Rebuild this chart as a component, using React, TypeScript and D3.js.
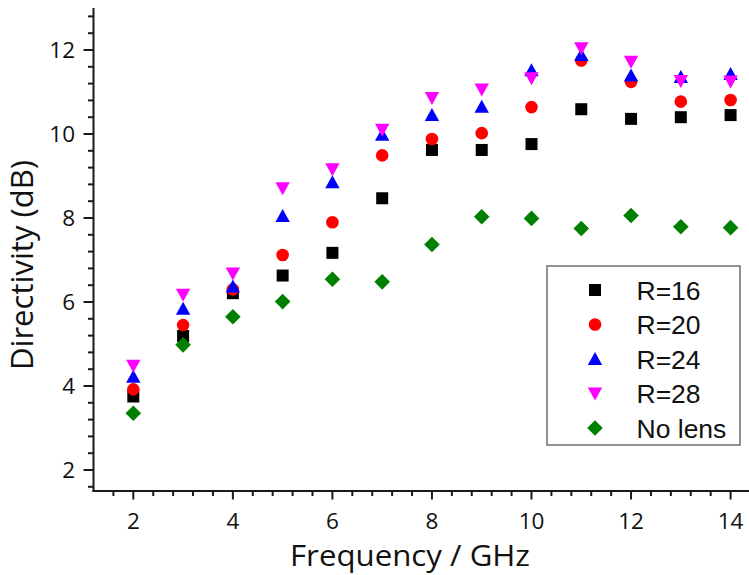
import React from "react";
import * as d3 from "d3";

const freqs = [2, 3, 4, 5, 6, 7, 8, 9, 10, 11, 12, 13, 14];
const r16 = [3.75, 5.19, 6.21, 6.63, 7.17, 8.47, 9.62, 9.62, 9.76, 10.59, 10.36, 10.4, 10.45];
const r20 = [3.92, 5.45, 6.3, 7.12, 7.9, 9.49, 9.88, 10.02, 10.64, 11.75, 11.24, 10.77, 10.81];
const r24 = [4.22, 5.84, 6.37, 8.05, 8.85, 9.98, 10.45, 10.65, 11.52, 11.88, 11.39, 11.36, 11.43];
const r28 = [4.48, 6.17, 6.68, 8.71, 9.16, 10.1, 10.86, 11.06, 11.33, 12.04, 11.72, 11.26, 11.25];
const noLens = [3.35, 4.98, 5.65, 6.01, 6.54, 6.48, 7.37, 8.03, 7.99, 7.75, 8.06, 7.79, 7.77];

const seriesNames = ["R=16", "R=20", "R=24", "R=28", "No lens"];
const seriesValues = [r16, r20, r24, r28, noLens];
const seriesColors = ["#000000", "#ff0000", "#0000ff", "#ff00ff", "#008000"];
const seriesShapes = ["square", "circle", "up", "down", "diamond"];

const xTicks = [2, 4, 6, 8, 10, 12, 14];
const yTicks = [2, 4, 6, 8, 10, 12];

const W = 749;
const H = 575;

const x = d3.scaleLinear().domain([1.2, 14.4]).range([93.5, 750.5]);
const y = d3.scaleLinear().domain([1.5, 13]).range([491, 8]);

function marker(shape: string, cx: number, cy: number, color: string, key: string) {
  switch (shape) {
    case "square":
      return <rect key={key} x={cx - 6} y={cy - 6} width={12} height={12} fill={color} />;
    case "circle":
      return <circle key={key} cx={cx} cy={cy} r={6.3} fill={color} />;
    case "up":
      return (
        <path key={key} d={`M${cx - 7.2},${cy + 6} L${cx + 7.2},${cy + 6} L${cx},${cy - 7} Z`} fill={color} />
      );
    case "down":
      return (
        <path key={key} d={`M${cx - 7.2},${cy - 6} L${cx + 7.2},${cy - 6} L${cx},${cy + 7} Z`} fill={color} />
      );
    default:
      return (
        <path
          key={key}
          d={`M${cx},${cy - 7.8} L${cx + 7.8},${cy} L${cx},${cy + 7.8} L${cx - 7.8},${cy} Z`}
          fill={color}
        />
      );
  }
}

export default function App() {
  const [x0, x1] = x.range();
  const [yb, yt] = y.range();
  const minorX = d3.range(4, 37).map((i) => i * 0.4).filter((v) => v >= 1.2 && v <= 14.4);
  const minorY = d3.range(4, 33).map((i) => i * 0.4).filter((v) => v >= 1.5 && v <= 13);
  const isMajor = (v: number, majors: number[]) => majors.some((m) => Math.abs(m - v) < 1e-6);
  const tickFont = "'Open Sans', sans-serif";
  const axisColor = "#1a1a1a";

  return (
    <svg
      width={W}
      height={H}
      style={{ position: "absolute", left: 0, top: 0, background: "#fff" }}
      xmlns="http://www.w3.org/2000/svg"
    >
      <rect x={0} y={0} width={W} height={H} fill="#fff" />
      {/* data */}
      {seriesValues.map((vals, si) =>
        vals.map((v, i) => marker(seriesShapes[si], x(freqs[i]), y(v), seriesColors[si], `m${si}-${i}`))
      )}
      {/* axes */}
      <line x1={x0} x2={x0} y1={yt} y2={yb + 1} stroke={axisColor} strokeWidth={2} />
      <line x1={x0 - 1} x2={W} y1={yb} y2={yb} stroke={axisColor} strokeWidth={2} />
      {minorY.map((v) => {
        const major = isMajor(v, yTicks);
        return (
          <line
            key={`yt${v}`}
            x1={x0 - (major ? 10 : 5.5)}
            x2={x0}
            y1={y(v)}
            y2={y(v)}
            stroke={axisColor}
            strokeWidth={2}
          />
        );
      })}
      {minorX.map((v) => {
        const major = isMajor(v, xTicks);
        return (
          <line
            key={`xt${v}`}
            x1={x(v)}
            x2={x(v)}
            y1={yb}
            y2={yb + (major ? 8.5 : 5)}
            stroke={axisColor}
            strokeWidth={2}
          />
        );
      })}
      {yTicks.map((v) => (
        <text
          key={`yl${v}`}
          x={75}
          y={y(v) + 7.5}
          textAnchor="end"
          fontFamily={tickFont}
          fontSize={22.5}
          fill="#111"
        >
          {v}
        </text>
      ))}
      {xTicks.map((v) => (
        <text
          key={`xl${v}`}
          x={x(v)}
          y={528.5}
          textAnchor="middle"
          fontFamily={tickFont}
          fontSize={22.5}
          fill="#111"
        >
          {v}
        </text>
      ))}
      <text
        x={410}
        y={566}
        textAnchor="middle"
        fontFamily={tickFont}
        fontSize={29.5}
        fill="#111"
        textLength={240}
        lengthAdjust="spacingAndGlyphs"
      >
        Frequency / GHz
      </text>
      <text
        transform={`translate(33,265) rotate(-90)`}
        textAnchor="middle"
        fontFamily={tickFont}
        fontSize={31}
        fill="#111"
        textLength={210}
        lengthAdjust="spacingAndGlyphs"
      >
        Directivity (dB)
      </text>
      {/* legend */}
      <rect x={547} y={266} width={193} height={179} fill="#fff" stroke="#6e6e6e" strokeWidth={1.5} />
      {seriesNames.map((name, i) => {
        const cy = 290 + i * 34.5;
        return (
          <g key={`lg${i}`}>
            {marker(seriesShapes[i], 595, cy, seriesColors[i], `lgm${i}`)}
            <text
              x={636.5}
              y={cy + 9.5}
              fontFamily="'Liberation Sans', Arial, sans-serif"
              fontSize={26.5}
              fill="#111"
            >
              {name}
            </text>
          </g>
        );
      })}
    </svg>
  );
}
